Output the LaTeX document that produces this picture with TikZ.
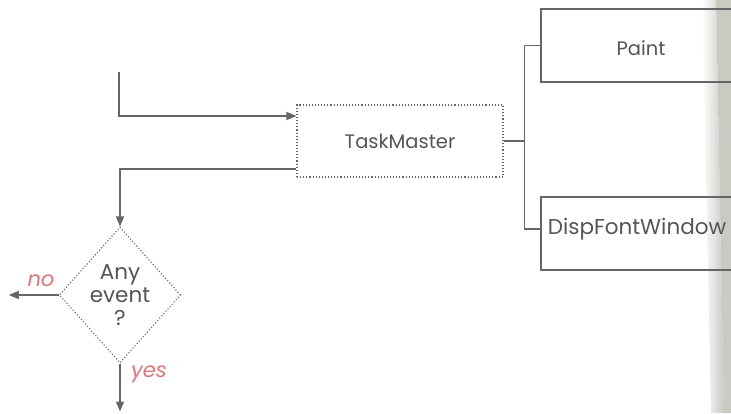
\documentclass[tikz,border=0pt]{standalone}
\usepackage{fontspec}
\setmainfont{Poppins}
\usetikzlibrary{arrows.meta,shapes.geometric}
\definecolor{ink}{HTML}{555555}
\definecolor{wire}{HTML}{666666}
\definecolor{pinkred}{HTML}{E07575}
\definecolor{gutter}{HTML}{CACAC3}
\begin{document}
\begin{tikzpicture}[x=1pt,y=-1pt,
  wire/.style={draw=wire,line width=1.3pt},
  arr/.style={wire,-{Triangle[length=10pt,width=8pt]}},
  dotbox/.style={draw=wire,line width=1.1pt,dash pattern=on 1.1pt off 2pt,minimum width=206pt,minimum height=72pt,inner sep=0pt},
  solidbox/.style={draw=wire,line width=1.3pt,minimum width=204pt,minimum height=73pt,inner sep=0pt},
  txt/.style={text=ink,font=\fontsize{19.5}{22}\selectfont,inner sep=0pt},
  bigtxt/.style={text=ink,font=\fontsize{21.5}{23}\selectfont,inner sep=0pt},
  lab/.style={text=pinkred,font=\fontsize{21}{23}\selectfont\itshape,inner sep=0pt}]
\useasboundingbox (0,0) rectangle (731,413);
\clip (0,0) rectangle (731,413);
\shade[left color=white,right color=gutter] (702,0) -- (716,0) -- (724,413) -- (711,413) -- cycle;
\fill[gutter] (716,0) -- (731,0) -- (731,413) -- (724,413) -- cycle;
\node[dotbox,txt] (TM) at (400,141) {TaskMaster};
\node[solidbox] (Paint) at (643,45.5) {};
\node[txt] (PaintT) at (641,48) {Paint};
\node[solidbox] (Disp) at (643,233.5) {};
\node[bigtxt] (DispT) at (637,229) {DispFontWindow};
\node[diamond,draw=wire,line width=1.1pt,dash pattern=on 1.1pt off 2pt,minimum width=120pt,minimum height=136pt,inner sep=0pt,bigtxt,align=center] (Dia) at (120,295) {Any\\event\\?};
\coordinate (in) at (119,72);
\draw[arr] (in) |- ([yshift=25pt]TM.west);
\draw[arr] ([yshift=-28pt]TM.west) -| (Dia.north);
\draw[wire] (TM.east) -- ++(21,0) coordinate (j);
\draw[wire] (Paint.west) -| (j);
\draw[wire] (j) |- (Disp.west |- DispT);
\draw[arr] (Dia.west) -- ++(-50,0) coordinate (noend);
\draw[arr] (Dia.south) -- ++(0,48) coordinate (yesend);
\node[lab] (no) at (41,281) {no};
\node[lab] (yes) at (149,374) {yes};
\end{tikzpicture}
\end{document}
